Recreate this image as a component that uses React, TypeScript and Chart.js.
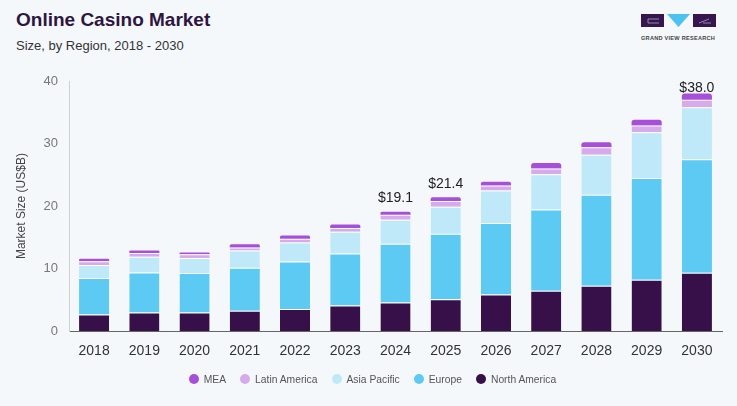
import React, { useEffect, useRef } from "react";
import { Chart, registerables } from "chart.js";

Chart.register(...registerables);

const years = ["2018", "2019", "2020", "2021", "2022", "2023", "2024", "2025", "2026", "2027", "2028", "2029", "2030"];
const northAmerica = [2.66, 2.98, 3.0, 3.25, 3.55, 4.1, 4.57, 5.1, 5.85, 6.48, 7.28, 8.23, 9.35];
const europe = [5.84, 6.42, 6.3, 6.9, 7.6, 8.33, 9.4, 10.47, 11.45, 12.97, 14.52, 16.27, 18.15];
const asiaPacific = [2.1, 2.5, 2.4, 2.75, 3.05, 3.47, 3.83, 4.33, 5.2, 5.65, 6.4, 7.3, 8.3];
const latinAmerica = [0.6, 0.6, 0.6, 0.5, 0.6, 0.6, 0.8, 0.9, 0.8, 0.9, 1.2, 1.1, 1.2];
const mea = [0.4, 0.4, 0.3, 0.5, 0.5, 0.55, 0.5, 0.6, 0.6, 0.9, 0.8, 0.9, 1.0];
const totalLabels = ["", "", "", "", "", "", "$19.1", "$21.4", "", "", "", "", "$38.0"];

const seriesNames = ["North America", "Europe", "Asia Pacific", "Latin America", "MEA"];
const seriesColors = ["#37104a", "#5ccaf3", "#bfe9f9", "#d7aaeb", "#a64fd8"];
const seriesData = [northAmerica, europe, asiaPacific, latinAmerica, mea];

const FONT = "'Liberation Sans', Arial, Helvetica, sans-serif";

const totalLabelPlugin = {
  id: "totalLabels",
  afterDatasetsDraw(chart: any) {
    const ctx = chart.ctx;
    const last = chart.data.datasets.length - 1;
    const meta = chart.getDatasetMeta(last);
    ctx.save();
    ctx.font = `14px ${FONT}`;
    ctx.fillStyle = "#222";
    ctx.textAlign = "center";
    ctx.textBaseline = "alphabetic";
    totalLabels.forEach((t, i) => {
      if (!t) return;
      const el = meta.data[i];
      const y = Math.max(el.y - 9.5, chart.chartArea.top + 10.5);
      ctx.fillText(t, el.x, y);
    });
    ctx.restore();
  },
};

function Logo() {
  return (
    <div style={{ position: "absolute", left: 641, top: 14, width: 76 }}>
      <svg width="76" height="14" viewBox="0 0 76 14">
        <rect x="0" y="0" width="23" height="13" fill="#37164f" />
        <path d="M7 5 H18 M7 5 V9 H18" stroke="#cfd6e6" strokeWidth="0.6" fill="none" />
        <polygon points="26,0 49,0 37.5,13" fill="#4cc3ef" />
        <rect x="52" y="0" width="23" height="13" fill="#37164f" />
        <path d="M58 9 L68 5 M62 9 H70" stroke="#cfd6e6" strokeWidth="0.6" fill="none" />
      </svg>
      <div
        style={{
          fontFamily: FONT,
          fontSize: 5.6,
          fontWeight: 700,
          color: "#444",
          letterSpacing: 0.25,
          whiteSpace: "nowrap",
          marginTop: 3,
        }}
      >
        GRAND VIEW RESEARCH
      </div>
    </div>
  );
}

function Legend() {
  const order = [4, 3, 2, 1, 0];
  return (
    <div
      style={{
        position: "absolute",
        left: 4,
        top: 372,
        width: 737,
        display: "flex",
        justifyContent: "center",
        alignItems: "center",
        fontFamily: FONT,
        fontSize: 10.3,
        color: "#555",
        height: 14,
      }}
    >
      {order.map((i, k) => (
        <div key={seriesNames[i]} style={{ display: "flex", alignItems: "center", marginLeft: k === 0 ? 0 : 14 }}>
          <span
            style={{
              display: "inline-block",
              width: 10,
              height: 10,
              borderRadius: 5,
              background: seriesColors[i],
              marginRight: 5,
            }}
          />
          <span>{seriesNames[i]}</span>
        </div>
      ))}
    </div>
  );
}

export default function App() {
  const ref = useRef<HTMLCanvasElement | null>(null);

  useEffect(() => {
    document.body.style.margin = "0";
    if (!ref.current) return;
    const datasets = seriesNames.map((name, i) => {
      const isTop = i === seriesNames.length - 1;
      return {
        label: name,
        data: seriesData[i],
        backgroundColor: seriesColors[i],
        borderColor: "#ffffff",
        borderWidth: isTop ? 0 : { top: 1, left: 0, right: 0, bottom: 0 },
        borderRadius: isTop ? { topLeft: 4, topRight: 4, bottomLeft: 0, bottomRight: 0 } : 0,
        borderSkipped: "start",
      };
    });
    const chart = new Chart(ref.current, {
      type: "bar",
      data: { labels: years, datasets } as any,
      options: {
        animation: false,
        responsive: true,
        maintainAspectRatio: false,
        datasets: { bar: { categoryPercentage: 1, barPercentage: 0.6 } },
        layout: { padding: { left: 14, right: 15, top: 21, bottom: 34 } },
        plugins: {
          tooltip: { enabled: false },
          legend: { display: false },
        },
        scales: {
          x: {
            stacked: true,
            grid: { display: false, drawTicks: false },
            border: { display: true, color: "#666", width: 1 },
            ticks: { color: "#333", padding: 12, font: { family: FONT, size: 14 } },
          },
          y: {
            stacked: true,
            min: 0,
            max: 40,
            afterFit(scale: any) {
              scale.width = 55;
            },
            grid: { display: false, drawTicks: false },
            border: { display: true, color: "#d0d0d0", width: 1 },
            ticks: { stepSize: 10, color: "#777", padding: 11, font: { family: FONT, size: 13 } },
            title: {
              display: true,
              text: "Market Size (US$B)",
              color: "#444",
              padding: { top: 0, bottom: 4 },
              font: { family: FONT, size: 12 },
            },
          },
        },
      } as any,
      plugins: [totalLabelPlugin],
    });
    return () => chart.destroy();
  }, []);

  return (
    <div
      style={{
        position: "relative",
        width: 737,
        height: 406,
        background: "#f5f8fb",
        overflow: "hidden",
        fontFamily: FONT,
      }}
    >
      <div style={{ position: "absolute", left: 16, top: 9, fontSize: 19, fontWeight: 700, color: "#2d1640" }}>
        Online Casino Market
      </div>
      <div style={{ position: "absolute", left: 16, top: 38, fontSize: 13, color: "#333" }}>
        Size, by Region, 2018 - 2030
      </div>
      <Logo />
      <div style={{ position: "absolute", left: 0, top: 60, width: 737, height: 346 }}>
        <canvas ref={ref} />
      </div>
      <Legend />
    </div>
  );
}
